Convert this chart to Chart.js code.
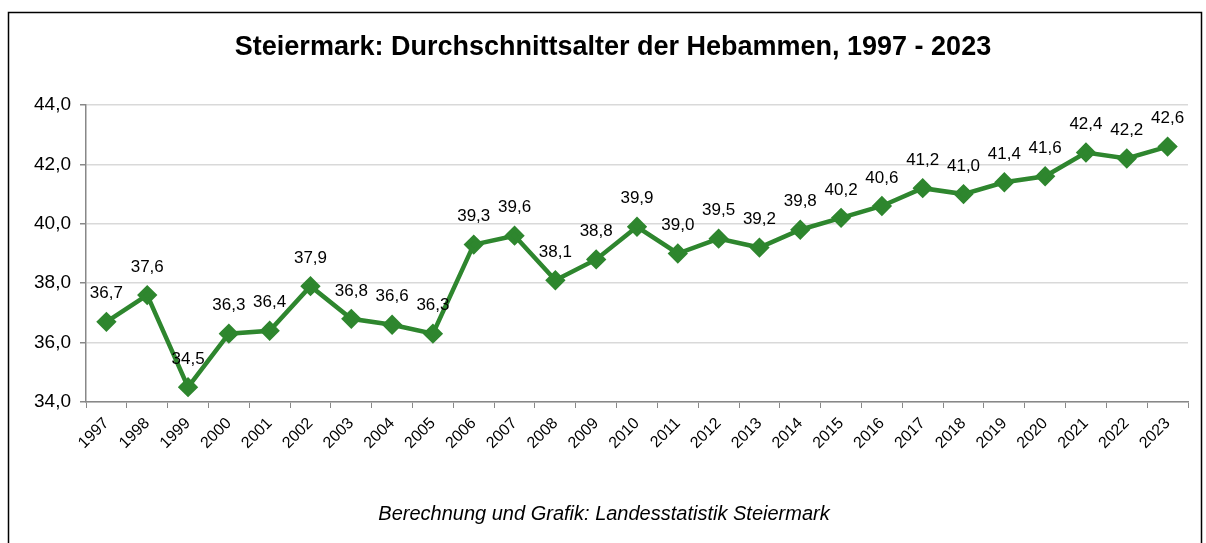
<!DOCTYPE html>
<html>
<head>
<meta charset="utf-8">
<script src="https://cdn.jsdelivr.net/npm/chart.js@4/dist/chart.umd.min.js"></script>
<style>
  body { margin: 0; background: #fff; }
</style>
</head>
<body>
<canvas id="hebammen_chart" width="1206" height="543"></canvas>
<script>
var years = ["1997", "1998", "1999", "2000", "2001", "2002", "2003", "2004", "2005", "2006", "2007", "2008", "2009", "2010", "2011", "2012", "2013", "2014", "2015", "2016", "2017", "2018", "2019", "2020", "2021", "2022", "2023"];
var avgAge = [36.7, 37.6, 34.5, 36.3, 36.4, 37.9, 36.8, 36.6, 36.3, 39.3, 39.6, 38.1, 38.8, 39.9, 39.0, 39.5, 39.2, 39.8, 40.2, 40.6, 41.2, 41.0, 41.4, 41.6, 42.4, 42.2, 42.6];
var yTicks = [34, 36, 38, 40, 42, 44];

var titleText = "Steiermark: Durchschnittsalter der Hebammen, 1997 - 2023";
var sourceText = "Berechnung und Grafik: Landesstatistik Steiermark";

function fmt(v) {
    return v.toFixed(1).replace('.', ',');
}

// frame, title, source line and value labels
var decorations = {
    id: 'decorations',
    beforeDraw: function (chart) {
        var ctx = chart.ctx;
        ctx.save();
        ctx.fillStyle = '#fff';
        ctx.fillRect(0, 0, chart.width, chart.height);
        ctx.strokeStyle = '#000';
        ctx.lineWidth = 1.5;
        ctx.strokeRect(8.5, 12.5, 1193, 560);
        ctx.restore();
    },
    afterDatasetsDraw: function (chart) {
        var ctx = chart.ctx;
        ctx.save();
        ctx.fillStyle = '#000';
        ctx.textAlign = 'center';
        ctx.textBaseline = 'middle';
        ctx.font = 'bold 27px "Liberation Sans", Arial, sans-serif';
        ctx.fillText(titleText, 613, 48);
        ctx.font = 'italic 20px "Liberation Sans", Arial, sans-serif';
        ctx.fillText(sourceText, 604, 514);
        ctx.font = '17px "Liberation Sans", Arial, sans-serif';
        chart.getDatasetMeta(0).data.forEach(function (pt, i) {
            ctx.fillText(fmt(avgAge[i]), pt.x, pt.y - 28);
        });
        ctx.restore();
    }
};

new Chart(document.getElementById("hebammen_chart").getContext("2d"), {
    type: 'line',
    data: {
        labels: years,
        datasets: [{
            label: "Durchschnittsalter",
            data: avgAge,
            borderColor: '#2E862E',
            backgroundColor: '#2E862E',
            borderWidth: 4.5,
            pointStyle: 'rectRot',
            pointRadius: 7,
            pointHoverRadius: 7,
            tension: 0
        }]
    },
    options: {
        responsive: false,
        animation: false,
        layout: { padding: { top: 105, right: 18, left: 0, bottom: 0 } },
        plugins: {
            legend: { display: false },
            title: { display: false },
            tooltip: { enabled: false }
        },
        scales: {
            x: {
                offset: true,
                grid: { offset: true, drawOnChartArea: false, drawTicks: true, tickLength: 6, tickColor: '#888' },
                border: { color: '#888', width: 1.5 },
                ticks: {
                    color: '#000',
                    font: { family: '"Liberation Sans", Arial, sans-serif', size: 16 },
                    minRotation: 45,
                    maxRotation: 45,
                    autoSkip: false,
                    padding: 6
                },
                afterFit: function (scale) { scale.height = 141; }
            },
            y: {
                min: 34,
                max: 44,
                afterBuildTicks: function (scale) {
                    scale.ticks = yTicks.map(function (v) { return { value: v }; });
                },
                grid: { color: '#d9d9d9', lineWidth: 1.5, tickLength: 6, tickColor: '#888' },
                border: { color: '#888', width: 1.5 },
                ticks: {
                    color: '#000',
                    font: { family: '"Liberation Sans", Arial, sans-serif', size: 19 },
                    padding: 9,
                    callback: function (v) { return fmt(v); }
                },
                afterFit: function (scale) { scale.width = 86; }
            }
        }
    },
    plugins: [decorations]
});
</script>
</body>
</html>
